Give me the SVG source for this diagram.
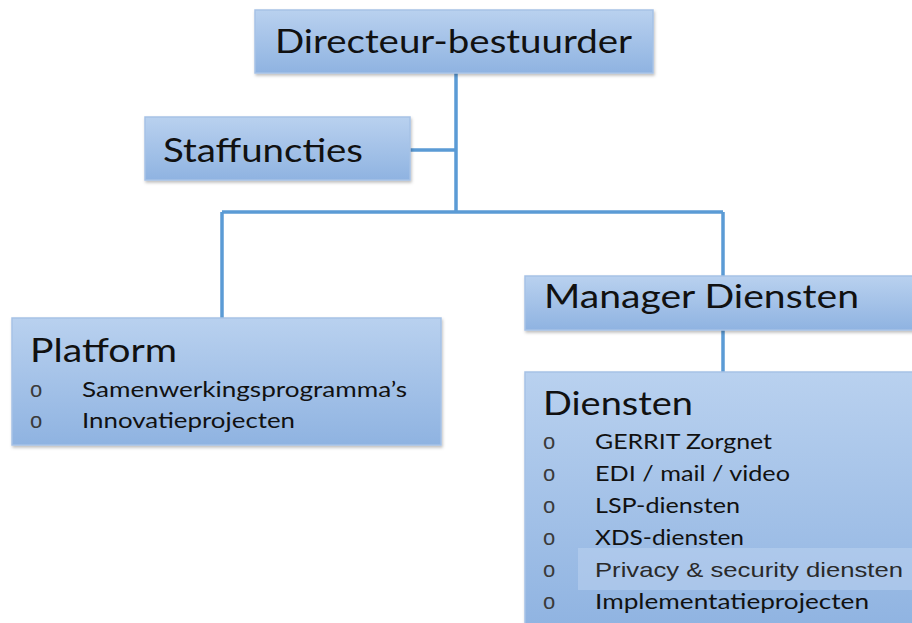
<svg xmlns="http://www.w3.org/2000/svg" width="912" height="623" viewBox="0 0 912 623">
<defs>
<linearGradient id="g" x1="0" y1="0" x2="0" y2="1">
<stop offset="0" stop-color="#b9d1ef"/>
<stop offset="1" stop-color="#8fb3e1"/>
</linearGradient>
<filter id="sh" x="-5%" y="-5%" width="110%" height="120%">
<feDropShadow dx="1" dy="2" stdDeviation="1.5" flood-color="#000" flood-opacity="0.25"/>
</filter>
<style>
.box{fill:url(#g);stroke:#a6c2e6;stroke-width:1.5;filter:url(#sh)}
.t{font-family:Lato,"Open Sans","Liberation Sans",sans-serif;fill:#111}
.h{font-size:33px}
.i{font-size:21px}
.b{font-family:"Liberation Sans",Arial,sans-serif;font-size:22px;fill:#3a3a3a}
.c{stroke:#5b9bd5;stroke-width:3.5;fill:none}
</style>
</defs>
<rect width="912" height="623" fill="#fff"/>
<g id="connectors">
<path class="c" d="M456 73 V212 M410 150 H456 M222 212 H723 M222 212 V318 M723 212 V276 M723 330 V372"/>
</g>
<g id="directeur">
<rect class="box" x="255" y="10" width="398" height="63"/>
<text class="t h" x="275" y="53" textLength="357" lengthAdjust="spacingAndGlyphs">Directeur-bestuurder</text>
</g>
<g id="staffuncties">
<rect class="box" x="145" y="117" width="265" height="63"/>
<text class="t h" x="163" y="162" textLength="200" lengthAdjust="spacingAndGlyphs">Staffuncties</text>
</g>
<g id="manager">
<rect class="box" x="525" y="276" width="390" height="54"/>
<text class="t h" x="544" y="308" textLength="315" lengthAdjust="spacingAndGlyphs">Manager Diensten</text>
</g>
<g id="platform">
<rect class="box" x="12" y="318" width="429" height="127"/>
<text class="t h" x="30" y="362" textLength="147" lengthAdjust="spacingAndGlyphs">Platform</text>
<text class="b" x="30" y="397">o</text>
<text class="t i" x="82" y="397" textLength="325" lengthAdjust="spacingAndGlyphs">Samenwerkingsprogramma’s</text>
<text class="b" x="30" y="428">o</text>
<text class="t i" x="82" y="428" textLength="213" lengthAdjust="spacingAndGlyphs">Innovatieprojecten</text>
</g>
<g id="diensten">
<rect class="box" x="525" y="372" width="390" height="260"/>
<rect x="578" y="548" width="334" height="42" fill="#c4d8f1" opacity="0.45"/>
<text class="t h" x="543" y="415" textLength="150" lengthAdjust="spacingAndGlyphs">Diensten</text>
<text class="b" x="543" y="449">o</text>
<text class="t i" x="595" y="449" textLength="177" lengthAdjust="spacingAndGlyphs">GERRIT Zorgnet</text>
<text class="b" x="543" y="481">o</text>
<text class="t i" x="595" y="481" textLength="195" lengthAdjust="spacingAndGlyphs">EDI / mail / video</text>
<text class="b" x="543" y="513">o</text>
<text class="t i" x="595" y="513" textLength="145" lengthAdjust="spacingAndGlyphs">LSP-diensten</text>
<text class="b" x="543" y="545">o</text>
<text class="t i" x="595" y="545" textLength="149" lengthAdjust="spacingAndGlyphs">XDS-diensten</text>
<text class="b" x="543" y="577">o</text>
<text x="595" y="577" font-family="'Liberation Sans',Arial,sans-serif" font-size="21" fill="#2a2a2a" textLength="308" lengthAdjust="spacingAndGlyphs">Privacy &amp; security diensten</text>
<text class="b" x="543" y="609">o</text>
<text class="t i" x="595" y="609" textLength="274" lengthAdjust="spacingAndGlyphs">Implementatieprojecten</text>
</g>
</svg>
